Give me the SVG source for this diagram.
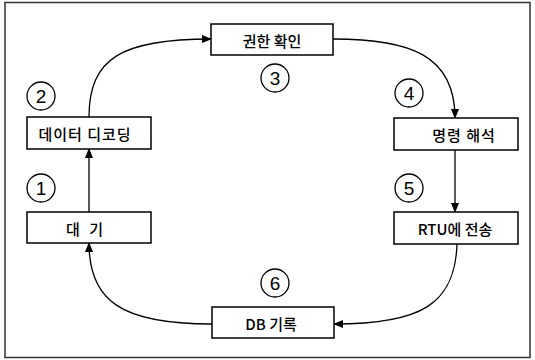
<svg xmlns="http://www.w3.org/2000/svg" width="535" height="360" viewBox="0 0 535 360">
<style>
.box{fill:#fff;stroke:#000;stroke-width:1.5}
.lbl{font-family:"Noto Sans CJK KR","Liberation Sans",sans-serif;font-size:15px;font-weight:500;fill:#000;text-anchor:middle;dominant-baseline:central}
.num{font-family:"Liberation Sans",sans-serif;font-size:19px;fill:#000;text-anchor:middle;dominant-baseline:central}
.circ{fill:none;stroke:#000;stroke-width:1.3}
.con{fill:none;stroke:#000;stroke-width:1.3;marker-end:url(#ah)}
</style>
<defs>
<marker id="ah" markerWidth="10" markerHeight="8" refX="9" refY="4" orient="auto" markerUnits="userSpaceOnUse">
<path d="M0,0 L10,4 L0,8 Z" fill="#000"/>
</marker>
</defs>
<rect x="0" y="0" width="535" height="360" fill="#fff"/>
<rect x="5" y="2.5" width="525" height="355" fill="none" stroke="#333" stroke-width="1.5"/>
<g id="connectors">
<path class="con" d="M89,117 C89,58 122,39 211,39"/>
<path class="con" d="M333,39 C410,39 455,55 455,118"/>
<path class="con" d="M455,150 L455,212"/>
<path class="con" d="M457,244 C455,305 420,324 334,324"/>
<path class="con" d="M212,324 C120,324 89,300 89,243"/>
<path class="con" d="M89,212 L89,149"/>
</g>
<g id="n1"><rect class="box" x="27" y="212" width="124" height="31"/><text class="lbl" x="86" y="228" letter-spacing="3">대 기</text></g>
<g id="n2"><rect class="box" x="27" y="117" width="124" height="32"/><text class="lbl" x="85" y="133" letter-spacing="1">데이터 디코딩</text></g>
<g id="n3"><rect class="box" x="211" y="24" width="122" height="31"/><text class="lbl" x="272" y="40">권한 확인</text></g>
<g id="n4"><rect class="box" x="394" y="118" width="124" height="32"/><text class="lbl" x="464" y="134" letter-spacing="1">명령 해석</text></g>
<g id="n5"><rect class="box" x="394" y="212" width="124" height="32"/><text class="lbl" x="455" y="228">RTU에 전송</text></g>
<g id="n6"><rect class="box" x="212" y="307" width="122" height="31"/><text class="lbl" x="271" y="323">DB 기록</text></g>
<g id="c1"><circle class="circ" cx="41" cy="188" r="14"/><text class="num" x="41" y="188">1</text></g>
<g id="c2"><circle class="circ" cx="41" cy="96" r="14"/><text class="num" x="41" y="96">2</text></g>
<g id="c3"><circle class="circ" cx="275" cy="78" r="14"/><text class="num" x="275" y="78">3</text></g>
<g id="c4"><circle class="circ" cx="409" cy="93" r="14"/><text class="num" x="409" y="93">4</text></g>
<g id="c5"><circle class="circ" cx="409" cy="188" r="14"/><text class="num" x="409" y="188">5</text></g>
<g id="c6"><circle class="circ" cx="275" cy="283" r="14"/><text class="num" x="275" y="283">6</text></g>
</svg>
